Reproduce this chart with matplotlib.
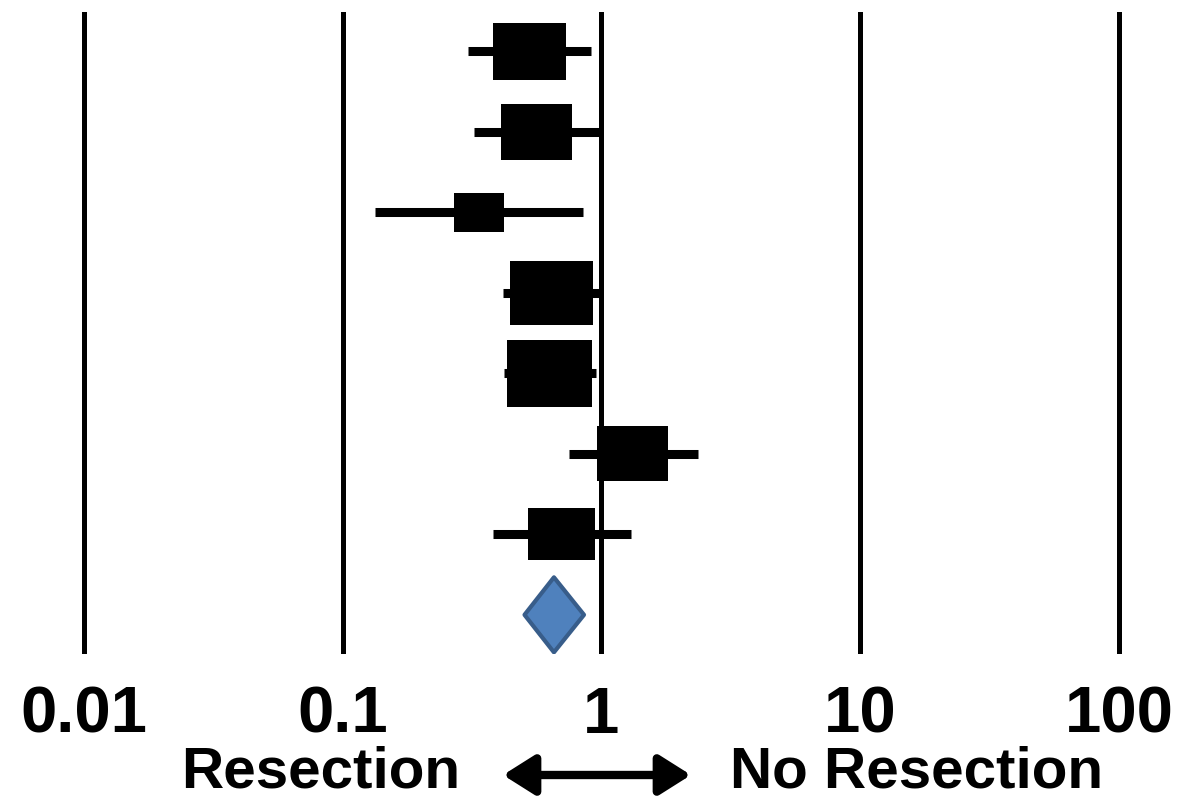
import matplotlib.pyplot as plt
from matplotlib.path import Path
from matplotlib.patches import FancyArrowPatch

# study estimates (odds ratios) with 95% CI, top to bottom
estimates = [0.527, 0.560, 0.336, 0.641, 0.629, 1.318, 0.700]
ci_low = [0.304, 0.322, 0.133, 0.415, 0.419, 0.749, 0.381]
ci_high = [0.911, 0.987, 0.846, 0.987, 0.955, 2.35, 1.30]
weights = [14.4, 14.0, 6.7, 18.9, 20.0, 13.6, 12.4]

# pooled estimate
pooled = 0.655
pooled_low = 0.504
pooled_high = 0.856

ticks = [0.01, 0.1, 1, 10, 100]
tick_labels = ["0.01", "0.1", "1", "10", "100"]

plt.rcParams['font.family'] = ['Liberation Sans', 'DejaVu Sans']

fig = plt.figure(figsize=(11.82, 8.01), dpi=100)
ax = fig.add_axes([0, 0.1835, 1, 0.8015])
ax.set_xscale('log')
ax.set_xlim(10 ** -2.3246, 10 ** 2.2435)
ax.set_ylim(7.487, -0.489)

for t in ticks:
    ax.axvline(t, color='black', lw=3.6, zorder=1)

rows = list(range(len(estimates)))
ax.hlines(rows, ci_low, ci_high, color='black', lw=6.5, zorder=2)

# rectangular box marker, size ~ study weight
box = Path([(-0.6425, -0.5), (0.6425, -0.5), (0.6425, 0.5), (-0.6425, 0.5), (-0.6425, -0.5)],
           [Path.MOVETO, Path.LINETO, Path.LINETO, Path.LINETO, Path.CLOSEPOLY])
ax.scatter(estimates, rows, s=[w * 188.7 for w in weights], marker=box,
           color='black', linewidths=0, zorder=3)

yd = len(estimates)
ax.fill([pooled_low, pooled, pooled_high, pooled], [yd, yd - 0.466, yd, yd + 0.466],
        facecolor='#4f81bd', edgecolor='#385d8a', lw=3, joinstyle='round', zorder=3)

ax.set_xticks(ticks)
ax.set_xticklabels(tick_labels, fontsize=47, fontweight='bold')
ax.minorticks_off()
ax.tick_params(axis='x', length=0, pad=23)
ax.set_yticks([])
for s in ax.spines.values():
    s.set_visible(False)

fig.text(321 / 1182, 1 - 787 / 801, "Resection", fontsize=42, fontweight='bold',
         ha='center', va='baseline')
fig.text(916.5 / 1182, 1 - 787 / 801, "No Resection", fontsize=42, fontweight='bold',
         ha='center', va='baseline')
fig.patches.append(FancyArrowPatch(
    (503 / 1182, 1 - 775 / 801), (691 / 1182, 1 - 775 / 801),
    transform=fig.transFigure, arrowstyle='<|-|>,head_length=1.9,head_width=1.2',
    mutation_scale=10, lw=6, color='black', shrinkA=0, shrinkB=0))

fig.savefig('out.png', dpi=100)
